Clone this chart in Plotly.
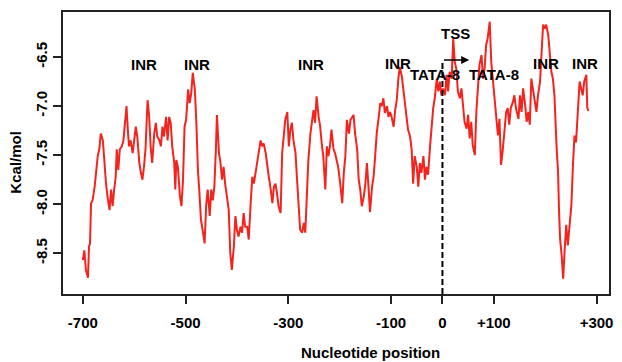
import plotly.graph_objects as go

# ---- data (nucleotide position, free energy kcal/mol) ----
position = [
    -700, -697, -694, -690, -688, -686, -684, -681, -677, -674, -671, -668, -665, -661, -658, -655,
    -652, -648, -645, -642, -639, -636, -634, -631, -628, -624, -621, -618, -615, -612, -610, -607,
    -603, -600, -597, -594, -590, -587, -584, -581, -578, -574, -571, -568, -565, -561, -558, -555,
    -551, -548, -545, -542, -538, -535, -532, -529, -526, -522, -520, -518, -515, -511, -508, -505,
    -502, -499, -495, -492, -489, -486, -482, -479, -476, -473, -470, -466, -463, -460, -457, -453,
    -450, -447, -444, -441, -439, -435, -432, -429, -426, -423, -419, -416, -413, -410, -406, -403,
    -400, -397, -393, -390, -387, -384,
    -380, -377, -373, -370, -367, -364, -360, -357, -354, -351, -348, -344, -341, -338, -335, -331,
    -328, -325, -322, -319, -315, -312, -309, -306, -302, -299, -296, -293, -290, -286, -283, -280,
    -277, -273, -270, -267, -264, -261, -257, -254, -251, -248, -245, -241, -238, -235, -232, -228,
    -225, -222, -219, -216, -212, -209, -206, -203, -199,
    -195, -192, -189, -186, -182, -179, -176, -173, -170, -166, -163, -160, -157, -153, -150, -147,
    -144, -141, -137, -134, -131, -128, -124, -121, -118, -115, -112, -108, -105, -102, -99, -95,
    -92, -89, -86, -83, -79, -76, -73, -70, -67, -63, -60, -57, -54, -50, -47, -44, -41, -37, -34, -31,
    -28, -24, -21, -18, -15, -11, -8, -5, -2, 1, 5, 8, 11, 14, 18, 21, 24, 27, 30, 34, 37, 40, 43,
    47, 50, 53, 56, 59, 63, 66, 69, 72, 76, 79, 82, 85, 88, 92, 95, 98, 101, 105, 108, 111, 114,
    117, 121, 124, 127, 130, 133, 137, 140, 143,
    148, 151, 154, 157, 161, 164, 167, 170, 173, 177, 180, 183, 186, 190, 193, 196, 199, 202, 206,
    209, 212, 215, 218, 222, 225, 227, 229, 232, 235, 238, 241, 244, 247, 251, 254, 257, 260, 264,
    267, 270, 273, 276, 280, 282, 284,
]
energy = [
    -8.57, -8.47, -8.67, -8.75, -8.43, -8.40, -7.99, -7.96, -7.82, -7.68, -7.51, -7.44, -7.28, -7.35, -7.58, -7.78,
    -7.92, -8.06, -7.85, -8.02, -7.85, -7.72, -7.44, -7.65, -7.44, -7.41, -7.35, -7.17, -7.00, -7.28, -7.41, -7.35,
    -7.48, -7.35, -7.21, -7.31, -7.58, -7.68, -7.75, -7.62, -7.44, -6.94, -7.10, -7.41, -7.58, -7.28, -7.17, -7.31,
    -7.35, -7.41, -7.21, -7.31, -7.11, -7.35, -7.11, -7.17, -7.41, -7.58, -7.85, -7.55, -7.62, -7.92, -8.02, -7.75,
    -7.21, -7.14, -6.83, -6.97, -6.87, -6.66, -6.83, -7.17, -7.65, -7.89, -8.16, -8.29, -8.40, -8.02, -7.85, -8.12,
    -7.85, -7.96, -7.82, -7.44, -7.09, -7.48, -7.58, -7.75, -7.62, -7.79, -7.92, -8.06, -8.50, -8.67, -8.43, -8.12,
    -8.26, -8.33, -8.23, -8.29, -8.09, -8.23,
    -8.23, -8.36, -7.96, -7.72, -7.79, -7.68, -7.58, -7.44, -7.35, -7.41, -7.38, -7.48, -7.62, -7.72, -7.82, -7.99,
    -7.82, -7.79, -7.89, -8.02, -8.09, -7.48, -7.31, -7.14, -7.06, -7.41, -7.24, -7.17, -7.35, -7.48, -7.75, -8.06,
    -8.26, -8.29, -8.19, -8.29, -7.89, -7.55, -7.28, -7.14, -7.04, -7.17, -6.90, -7.11, -7.21, -7.38, -7.51, -7.85,
    -7.41, -7.51, -7.41, -7.24, -7.44, -7.48, -7.55, -7.62, -7.79,
    -7.99, -7.68, -7.51, -7.14, -7.28, -7.14, -7.11, -7.09, -7.28, -7.44, -7.75, -7.85, -8.02, -7.92, -7.79, -7.58,
    -7.82, -8.08, -7.82, -7.72, -7.51, -7.28, -7.11, -6.97, -7.00, -6.92, -7.07, -7.00, -7.11, -7.06, -7.11, -7.21,
    -7.04, -6.94, -6.73, -6.60, -6.70, -6.83, -6.97, -7.07, -7.24, -7.31, -7.44, -7.79, -7.51, -7.62, -7.82, -7.58, -7.68, -7.51, -7.75, -7.62,
    -7.70, -7.40, -7.16, -7.02, -6.92, -6.72, -6.85, -6.75, -6.89, -6.82, -6.89, -6.68, -6.85, -6.65, -6.72, -6.31, -6.55, -6.62, -6.85, -6.92, -6.82, -7.02, -7.16,
    -7.23, -7.09, -7.33, -7.16, -7.40, -7.50, -7.06, -6.79, -6.58, -6.48, -6.72, -6.62, -6.38, -6.31, -6.14, -6.55, -6.72, -6.89, -7.06, -7.30, -7.13, -7.60,
    -7.47, -7.23, -7.06, -7.02, -7.19, -7.02, -6.96, -6.89, -7.02,
    -7.13, -6.89, -7.06, -6.82, -6.99, -7.16, -7.06, -7.19, -6.72, -6.85, -6.92, -7.06, -6.89, -6.75, -6.45, -6.17, -6.21, -6.17, -6.28,
    -6.45, -6.65, -6.72, -6.89, -7.40, -7.67, -8.08, -8.35, -8.52, -8.76, -8.45, -8.21, -8.42, -8.25, -8.01, -7.60, -7.30, -7.37, -7.02,
    -6.75, -6.82, -6.89, -6.75, -6.68, -7.02, -7.05,
]

x_tick_vals = [-700, -500, -300, -100, 0, 100, 300]
x_tick_text = ["-700", "-500", "-300", "-100", "0", "+100", "+300"]
y_tick_vals = [-6.5, -7.0, -7.5, -8.0, -8.5]
y_tick_text = ["-6.5", "-7.0", "-7.5", "-8.0", "-8.5"]

# motif labels: (text, position, energy level)
label_text = ["INR", "INR", "INR", "INR", "TATA-8", "TSS", "TATA-8", "INR", "INR"]
label_pos = [-580, -478, -256, -87, -14, 25, 101, 202, 278]
label_lvl = [-6.58, -6.58, -6.58, -6.57, -6.68, -6.26, -6.68, -6.57, -6.57]

FONT = "Liberation Sans, Arial, Helvetica, sans-serif"
AXC = "#222222"

fig = go.Figure()
fig.add_trace(go.Scatter(x=position, y=energy, mode="lines",
                         line=dict(color="#f5231e", width=2.0), hoverinfo="skip"))

# TSS dashed marker + bent arrow
fig.add_shape(type="line", x0=0, x1=0, y0=-8.915, y1=-6.53, xref="x", yref="y",
              line=dict(color="black", width=2, dash="6px,3px"))
fig.add_annotation(x=52, y=-6.53, ax=0, ay=-6.53, axref="x", ayref="y", xref="x", yref="y",
                   text="", showarrow=True, arrowhead=2, arrowsize=1, arrowwidth=1.6,
                   arrowcolor="black")

for t, px, py in zip(label_text, label_pos, label_lvl):
    fig.add_annotation(x=px, y=py, text=t, showarrow=False, xanchor="center", yanchor="middle",
                       font=dict(family=FONT, size=15, color="black", weight=700))

# axis titles
fig.add_annotation(x=0.5636, y=-0.208, xref="paper", yref="paper", text="Nucleotide position",
                   showarrow=False, xanchor="center", yanchor="middle",
                   font=dict(family=FONT, size=15, color="black", weight=700))
fig.add_annotation(x=-0.0873, y=0.467, xref="paper", yref="paper", text="Kcal/mol",
                   showarrow=False, xanchor="center", yanchor="middle", textangle=-90,
                   font=dict(family=FONT, size=15, color="black", weight=700))

fig.update_layout(
    width=622, height=362,
    margin=dict(l=63, r=9, t=12, b=68),
    paper_bgcolor="white", plot_bgcolor="white",
    showlegend=False,
    xaxis=dict(range=[-738.6, 324.2], tickvals=x_tick_vals, ticktext=x_tick_text,
               showgrid=False, zeroline=False, showline=True, mirror=True,
               linecolor=AXC, linewidth=1.8, ticks="outside", ticklen=8, tickwidth=1.6,
               tickcolor=AXC, ticklabelstandoff=6,
               tickfont=dict(family=FONT, size=15, color="black", weight=700)),
    yaxis=dict(range=[-8.915, -6.041], tickvals=y_tick_vals, ticktext=y_tick_text,
               showgrid=False, zeroline=False, showline=True, mirror=True,
               linecolor=AXC, linewidth=1.8, ticks="outside", ticklen=8, tickwidth=1.6,
               tickcolor=AXC, tickangle=-90,
               tickfont=dict(family=FONT, size=15, color="black", weight=700)),
)

fig.write_html("out.html")
